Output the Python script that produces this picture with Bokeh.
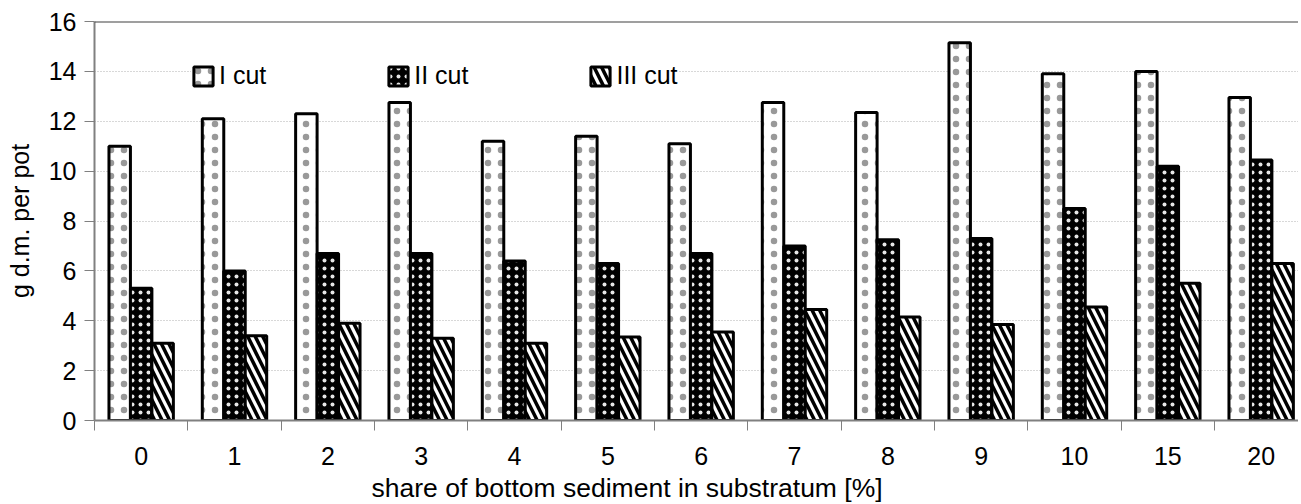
from bokeh.plotting import figure
from bokeh.models import (ColumnDataSource, FixedTicker, Legend, LegendItem, Span, Title, Range1d)
from bokeh.transform import dodge
from bokeh.embed import file_html
from bokeh.resources import INLINE

categories = ["0", "1", "2", "3", "4", "5", "6", "7", "8", "9", "10", "15", "20"]
cut_1 = [11.0, 12.1, 12.3, 12.75, 11.2, 11.4, 11.1, 12.75, 12.35, 15.15, 13.9, 14.0, 12.95]
cut_2 = [5.3, 6.0, 6.7, 6.7, 6.4, 6.3, 6.7, 7.0, 7.25, 7.3, 8.5, 10.2, 10.45]
cut_3 = [3.1, 3.4, 3.9, 3.3, 3.1, 3.35, 3.55, 4.45, 4.15, 3.85, 4.55, 5.5, 6.3]
y_ticks = [0, 2, 4, 6, 8, 10, 12, 14, 16]

FONT = "Liberation Sans"
FS = "25px"

centers = [i + 0.5 for i in range(len(categories))]
source = ColumnDataSource(dict(x=centers, c1=cut_1, c2=cut_2, c3=cut_3))

p = figure(frame_width=1204, frame_height=399, min_border_left=94, min_border_right=0,
           min_border_top=21, min_border_bottom=76,
           x_range=Range1d(0, 12.9), y_range=Range1d(0, 16),
           output_backend="svg", toolbar_location=None, background_fill_color="white",
           border_fill_color="white")
p.outline_line_color = None

w = 0.23
r1 = p.vbar(x=dodge("x", -w, range=p.x_range), top="c1", width=w, source=source,
            fill_color="white", line_color="black", line_width=3,
            hatch_pattern="dot", hatch_color="#999999", hatch_scale=13, hatch_weight=0.5)
r2 = p.vbar(x=dodge("x", 0, range=p.x_range), top="c2", width=w, source=source,
            fill_color="black", line_color="black", line_width=3,
            hatch_pattern="dot", hatch_color="#e6e6e6", hatch_scale=8, hatch_weight=0.6)
r3 = p.vbar(x=dodge("x", w, range=p.x_range), top="c3", width=w, source=source,
            fill_color="white", line_color="black", line_width=3,
            hatch_pattern="left_diagonal_line", hatch_color="black", hatch_scale=15, hatch_weight=3.5)

# top border
p.add_layout(Span(location=16, dimension="width", line_color="#404040", line_width=2))

# y axis
p.yaxis.ticker = FixedTicker(ticks=y_ticks)
p.yaxis.axis_line_color = "#808080"
p.yaxis.axis_line_width = 2
p.yaxis.major_tick_line_color = "#808080"
p.yaxis.major_tick_out = 10
p.yaxis.major_tick_in = 0
p.yaxis.minor_tick_line_color = None
p.yaxis.major_label_text_font = FONT
p.yaxis.major_label_text_font_size = FS
p.yaxis.major_label_text_color = "black"
p.yaxis.major_label_standoff = 8
p.yaxis.axis_label = "g d.m. per pot"
p.yaxis.axis_label_text_font = FONT
p.yaxis.axis_label_text_font_size = FS
p.yaxis.axis_label_text_font_style = "normal"
p.yaxis.axis_label_text_color = "black"
p.yaxis.axis_label_standoff = 12

# x axis
p.xaxis.ticker = FixedTicker(ticks=centers, minor_ticks=list(range(len(categories) + 1)))
p.xaxis.major_label_overrides = {c: lab for c, lab in zip(centers, categories)}
p.xaxis.axis_line_color = "#808080"
p.xaxis.axis_line_width = 2
p.xaxis.major_tick_line_color = None
p.xaxis.minor_tick_line_color = "#808080"
p.xaxis.minor_tick_out = 10
p.xaxis.minor_tick_in = 0
p.xaxis.major_label_text_font = FONT
p.xaxis.major_label_text_font_size = FS
p.xaxis.major_label_text_color = "black"
p.xaxis.major_label_standoff = 16

p.add_layout(Title(text="share of bottom sediment in substratum [%]", align="left", offset=277,
                   text_font=FONT, text_font_size="26.5px", text_font_style="normal",
                   text_color="black", standoff=7), "below")

p.xgrid.grid_line_color = None
p.ygrid.ticker = FixedTicker(ticks=y_ticks)
p.ygrid.grid_line_color = "#b0b0b0"
p.ygrid.grid_line_dash = "1 2"
p.ygrid.grid_line_width = 1

legend = Legend(items=[LegendItem(label="I cut", renderers=[r1]),
                       LegendItem(label="II cut", renderers=[r2]),
                       LegendItem(label="III cut", renderers=[r3])],
                orientation="horizontal", location=(97, 330), spacing=120,
                glyph_width=24, glyph_height=24, label_standoff=4, padding=0, margin=0,
                border_line_color=None, background_fill_color="white", background_fill_alpha=1,
                label_text_font=FONT, label_text_font_size=FS, label_text_color="black",
                label_height=24)
p.add_layout(legend)

open("out.html", "w").write(file_html(p, INLINE))
